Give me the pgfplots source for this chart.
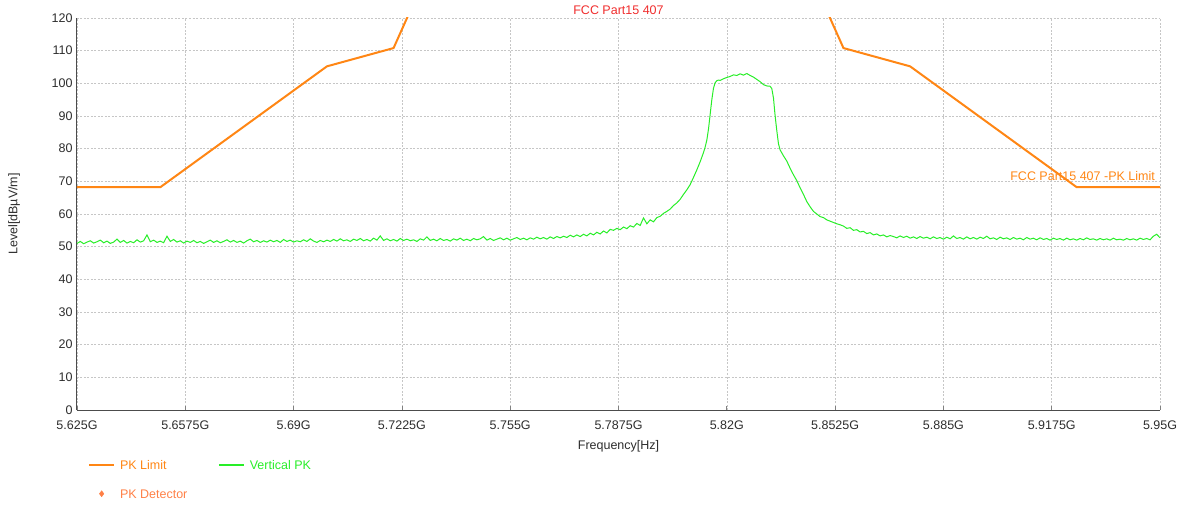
\documentclass[border=0pt]{standalone}
\usepackage{pgfplots}
\pgfplotsset{compat=1.18}
\usepackage{pgfplotstable}
\usepackage{fontspec}
\setmainfont{Liberation Sans}
\definecolor{limorange}{RGB}{255,134,20}
\definecolor{trgreen}{RGB}{40,238,40}
\definecolor{ttlred}{RGB}{240,45,45}
\definecolor{detorange}{RGB}{255,128,70}
\definecolor{txtgray}{RGB}{45,45,45}
\newcommand\lbl{\fontsize{12.5}{15}\selectfont}

\pgfplotstableread{
x y
5.625 68.2
5.650 68.2
5.700 105.2
5.720 110.8
5.725 122.2
5.850 122.2
5.855 110.8
5.875 105.2
5.925 68.2
5.950 68.2
}\limit

\pgfplotstableread{
x y
5.625 51.0
5.626 51.6
5.627 50.9
5.628 51.4
5.629 51.8
5.630 51.1
5.631 51.5
5.632 52.0
5.633 51.2
5.634 51.7
5.635 51.0
5.636 51.4
5.637 52.3
5.638 51.3
5.639 51.9
5.640 51.1
5.641 51.6
5.642 51.2
5.643 52.1
5.644 51.4
5.645 51.8
5.646 53.6
5.647 51.5
5.648 52.0
5.649 51.3
5.650 51.7
5.651 51.2
5.652 53.2
5.653 51.6
5.654 52.2
5.655 51.4
5.656 51.8
5.657 51.1
5.658 51.7
5.659 51.3
5.660 51.9
5.661 51.2
5.662 51.6
5.663 51.0
5.664 51.5
5.665 52.0
5.666 51.3
5.667 51.8
5.668 51.2
5.669 51.6
5.670 52.1
5.671 51.4
5.672 51.9
5.673 51.3
5.674 51.7
5.675 51.1
5.676 51.8
5.677 52.3
5.678 51.5
5.679 51.9
5.680 51.3
5.681 51.8
5.682 51.4
5.683 52.0
5.684 51.5
5.685 51.9
5.686 51.3
5.687 52.2
5.688 51.6
5.689 52.0
5.690 51.4
5.691 51.8
5.692 51.5
5.693 52.1
5.694 51.6
5.695 52.4
5.696 51.7
5.697 51.3
5.698 51.9
5.699 51.5
5.700 52.0
5.701 51.6
5.702 52.2
5.703 51.7
5.704 52.4
5.705 51.8
5.706 52.1
5.707 51.6
5.708 52.3
5.709 51.9
5.710 52.5
5.711 51.8
5.712 52.2
5.713 51.7
5.714 52.6
5.715 52.0
5.716 53.3
5.717 51.9
5.718 52.4
5.719 51.8
5.720 52.2
5.721 51.7
5.722 52.5
5.723 51.9
5.724 52.3
5.725 51.8
5.726 52.1
5.727 51.6
5.728 52.4
5.729 52.0
5.730 53.0
5.731 51.9
5.732 52.3
5.733 51.8
5.734 52.5
5.735 51.9
5.736 52.2
5.737 51.7
5.738 52.4
5.739 52.0
5.740 52.6
5.741 51.9
5.742 52.3
5.743 51.8
5.744 52.5
5.745 52.1
5.746 52.4
5.747 53.1
5.748 52.0
5.749 52.5
5.750 51.9
5.751 52.3
5.752 52.7
5.753 52.1
5.754 52.6
5.755 52.0
5.756 52.4
5.757 52.8
5.758 52.2
5.759 52.6
5.760 52.1
5.761 52.7
5.762 52.3
5.763 52.9
5.764 52.4
5.765 52.8
5.766 52.3
5.767 53.0
5.768 52.5
5.769 53.1
5.770 52.7
5.771 53.2
5.772 52.8
5.773 53.5
5.774 53.0
5.775 53.6
5.776 53.1
5.777 53.8
5.778 53.3
5.779 54.1
5.780 53.6
5.781 54.4
5.782 53.9
5.783 54.8
5.784 54.2
5.785 55.3
5.786 55.0
5.787 55.6
5.788 55.2
5.789 56.0
5.790 55.5
5.791 56.4
5.792 56.0
5.793 57.1
5.794 56.5
5.795 58.8
5.796 57.0
5.797 58.2
5.798 57.6
5.799 58.9
5.800 59.3
5.801 60.2
5.802 60.8
5.803 61.5
5.804 62.6
5.805 63.4
5.806 64.5
5.807 66.0
5.808 67.4
5.809 69.0
5.810 71.2
5.811 73.5
5.812 76.0
5.813 78.8
5.8135 80.5
5.814 82.6
5.8145 86.0
5.815 90.5
5.8155 95.0
5.816 98.5
5.8165 100.2
5.817 100.8
5.8175 101.0
5.818 100.9
5.819 101.4
5.820 101.8
5.821 102.1
5.822 102.6
5.823 102.4
5.824 102.9
5.825 102.5
5.826 103.0
5.827 102.4
5.828 101.9
5.829 101.2
5.830 100.5
5.831 99.6
5.832 99.2
5.833 99.1
5.8335 98.4
5.834 95.5
5.8345 90.0
5.835 85.5
5.8355 81.5
5.836 79.6
5.837 77.8
5.838 76.2
5.839 74.0
5.840 72.0
5.841 70.2
5.842 68.0
5.843 66.0
5.844 63.8
5.845 62.2
5.846 60.8
5.847 60.0
5.848 59.2
5.849 58.9
5.850 58.2
5.851 57.8
5.852 57.4
5.853 57.0
5.854 56.7
5.855 56.3
5.856 55.6
5.857 55.8
5.858 55.0
5.859 55.2
5.860 54.5
5.861 54.7
5.862 54.0
5.863 54.3
5.864 53.6
5.865 53.9
5.866 53.3
5.867 53.6
5.868 53.0
5.869 53.4
5.870 53.1
5.871 52.7
5.872 53.3
5.873 52.8
5.874 53.2
5.875 52.6
5.876 53.0
5.877 52.5
5.878 53.1
5.879 52.6
5.880 52.9
5.881 52.4
5.882 53.0
5.883 52.5
5.884 52.8
5.885 52.3
5.886 52.9
5.887 52.4
5.888 53.3
5.889 52.5
5.890 52.8
5.891 52.3
5.892 53.0
5.893 52.4
5.894 52.8
5.895 52.3
5.896 52.9
5.897 52.5
5.898 53.2
5.899 52.4
5.900 52.7
5.901 52.2
5.902 52.9
5.903 52.4
5.904 52.7
5.905 52.2
5.906 52.8
5.907 52.3
5.908 52.6
5.909 52.1
5.910 52.8
5.911 52.3
5.912 52.6
5.913 52.1
5.914 52.7
5.915 52.2
5.916 52.5
5.917 52.0
5.918 52.6
5.919 52.2
5.920 52.5
5.921 52.0
5.922 52.6
5.923 52.1
5.924 52.4
5.925 52.0
5.926 52.5
5.927 52.1
5.928 52.7
5.929 52.2
5.930 52.4
5.931 52.0
5.932 52.5
5.933 52.1
5.934 52.4
5.935 52.0
5.936 52.6
5.937 52.1
5.938 52.3
5.939 52.0
5.940 52.5
5.941 52.1
5.942 52.4
5.943 52.0
5.944 52.6
5.945 52.2
5.946 52.5
5.947 52.1
5.948 53.2
5.949 53.8
5.950 52.7
}\trace

\begin{document}
\begin{tikzpicture}
\useasboundingbox (-77pt,-96pt) rectangle (1109pt,410pt);
\begin{axis}[
  at={(0pt,0pt)}, anchor=south west,
  width=1083pt, height=392pt, scale only axis,
  xmin=5.625, xmax=5.95, ymin=0, ymax=120,
  xtick={5.625,5.6575,5.69,5.7225,5.755,5.7875,5.82,5.8525,5.885,5.9175,5.95},
  xticklabels={5.625G,5.6575G,5.69G,5.7225G,5.755G,5.7875G,5.82G,5.8525G,5.885G,5.9175G,5.95G},
  ytick={0,10,...,120},
  /pgf/number format/assume math mode=true,
  grid=major,
  grid style={gray!45, dash pattern=on 2pt off 1.5pt, line width=0.6pt},
  axis x line*=bottom, axis y line*=left,
  axis line style={draw=black!70, line width=1pt, -},
  xtick style={draw=black!50, line width=0.8pt},
  ytick style={draw=none},
  major tick length=4pt, tick align=inside,
  xticklabel style={font=\lbl, text=txtgray, anchor=base, yshift=-19pt},
  yticklabel style={font=\lbl, text=txtgray, anchor=east, xshift=-1pt},
  xlabel={Frequency[Hz]},
  ylabel={Level[dB\textmu V/m]},
  xlabel style={font=\lbl, text=txtgray, at={(axis description cs:0.5,-0.092)}, anchor=center},
  ylabel style={font=\lbl, text=txtgray, at={(axis description cs:-0.058,0.5)}, anchor=center, rotate=0},
  legend columns=2,
  legend cell align=left,
  legend style={at={(axis description cs:0.0102,-0.128)}, anchor=north west,
    draw=none, fill=none, font=\lbl, row sep=20pt,
    inner sep=0pt, nodes={inner sep=0pt, text depth=0pt},
    /tikz/every odd column/.append style={column sep=5pt},
    /tikz/every even column/.append style={column sep=8pt}},
  legend image code/.code={\draw[#1, line width=1.8pt] (0pt,0pt) -- (25pt,0pt);},
]
\addplot[limorange, line width=2pt] table[x=x,y=y] {\limit};
\addlegendentry{\makebox[90pt][l]{\textcolor{limorange}{PK Limit}}}
\addplot[trgreen, line width=1pt] table[x=x,y=y] {\trace};
\addlegendentry{\textcolor{trgreen}{Vertical PK}}
\addlegendimage{legend image code/.code={\draw[detorange, mark=diamond*, mark size=3pt, only marks] plot coordinates {(12.5pt,0pt)};}}
\addlegendentry{\textcolor{detorange}{PK Detector}}
\node[font=\lbl, text=limorange, anchor=base east, inner sep=0pt] at (axis cs:5.9485,70.4) {FCC Part15 407 -PK Limit};
\end{axis}
\node[font=\lbl, text=ttlred, anchor=center, inner sep=0pt] at (541.5pt,400pt) {FCC Part15 407};
\end{tikzpicture}
\end{document}
